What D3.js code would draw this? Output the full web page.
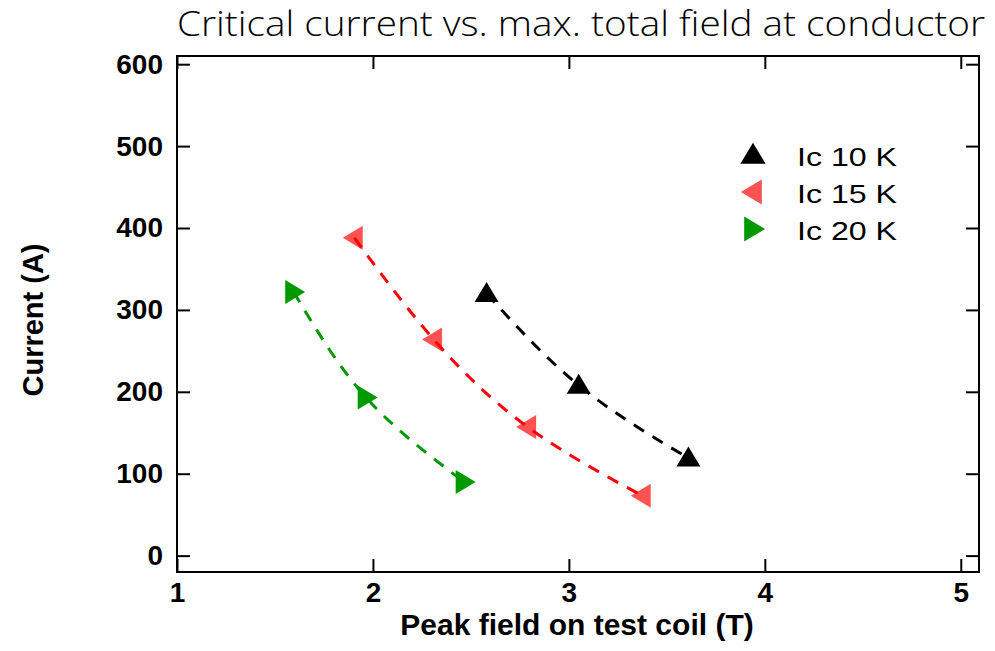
<!DOCTYPE html>
<html>
<head>
<meta charset="utf-8">
<script src="https://cdn.jsdelivr.net/npm/d3@7"></script>
<style>
  body { margin: 0; background: #fff; }
  svg { display: block; }
  .tick text { font-family: 'Liberation Sans', Arial, sans-serif; font-weight: bold; font-size: 28px; fill: #000; }
</style>
</head>
<body>
<svg id="chart" width="995" height="651"></svg>
<script>
// data
const field10 = [2.58, 3.05, 3.61]
const ic10 = [320, 208, 119]
const field15 = [1.905, 2.31, 2.79, 3.375]
const ic15 = [388, 264, 157, 73]
const field20 = [1.595, 1.965, 2.465]
const ic20 = [322, 193, 90]
const xTicks = [1, 2, 3, 4, 5]
const yTicks = [0, 100, 200, 300, 400, 500, 600]

const series = [
  { name: 'Ic 10 K', x: field10, y: ic10, line: '#000', fill: '#000', marker: 'up' },
  { name: 'Ic 15 K', x: field15, y: ic15, line: '#ff0000', fill: 'rgba(255,40,40,0.8)', marker: 'left' },
  { name: 'Ic 20 K', x: field20, y: ic20, line: '#009900', fill: '#009900', marker: 'right' }
]

const svg = d3.select('#chart'),
  margin = { top: 56, right: 16, bottom: 79, left: 177 },
  width = 995 - margin.left - margin.right,
  height = 651 - margin.top - margin.bottom

const x = d3.scaleLinear().domain([1, 5.093]).range([0, width])
const y = d3.scaleLinear().domain([-20, 610]).range([height, 0])

const g = svg.append('g')
  .attr('transform', 'translate(' + margin.left + ',' + margin.top + ')')

// axes with inward ticks
g.append('g')
  .attr('transform', 'translate(0,' + height + ')')
  .call(d3.axisBottom(x).tickValues(xTicks).tickSize(-13).tickPadding(10).tickFormat(d3.format('d')))
  .call(a => a.select('.domain').remove())
g.append('g')
  .call(d3.axisLeft(y).tickValues(yTicks).tickSize(-13).tickPadding(14))
  .call(a => a.select('.domain').remove())
g.append('g')
  .call(d3.axisTop(x).tickValues(xTicks).tickSize(-13).tickFormat(''))
  .call(a => a.select('.domain').remove())
g.append('g')
  .attr('transform', 'translate(' + width + ',0)')
  .call(d3.axisRight(y).tickValues(yTicks).tickSize(-13).tickFormat(''))
  .call(a => a.select('.domain').remove())
g.selectAll('.tick line').attr('stroke', '#000').attr('stroke-width', 2)

g.append('rect')
  .attr('width', width).attr('height', height)
  .attr('fill', 'none').attr('stroke', '#000').attr('stroke-width', 2)

const shape = (kind, s) => {
  if (kind === 'up') return `M0,${-s * 0.58}L${s * 0.6},${s * 0.42}L${-s * 0.6},${s * 0.42}Z`
  if (kind === 'left') return `M${-s * 0.58},0L${s * 0.42},${-s * 0.6}L${s * 0.42},${s * 0.6}Z`
  return `M${s * 0.58},0L${-s * 0.42},${-s * 0.6}L${-s * 0.42},${s * 0.6}Z`
}

const line = d3.line().curve(d3.curveNatural)
  .x(d => x(d[0])).y(d => y(d[1]))

series.forEach(s => {
  const pts = s.x.map((v, i) => [v, s.y[i]])
  g.selectAll(null).data(pts).enter().append('path')
    .attr('transform', d => 'translate(' + x(d[0]) + ',' + y(d[1]) + ')')
    .attr('d', shape(s.marker, 20))
    .attr('fill', s.fill)
  g.append('path')
    .datum(pts)
    .attr('d', line)
    .attr('fill', 'none')
    .attr('stroke', s.line)
    .attr('stroke-width', 3)
    .attr('stroke-dasharray', '12,10')
})

// legend
const leg = svg.append('g').attr('transform', 'translate(753,155)')
series.forEach((s, i) => {
  const row = leg.append('g').attr('transform', 'translate(0,' + i * 37 + ')')
  row.append('path').attr('d', shape(s.marker, 21)).attr('fill', s.fill)
  row.append('text')
    .attr('x', 44).attr('y', 11)
    .attr('textLength', 100)
    .attr('lengthAdjust', 'spacingAndGlyphs')
    .style('font-family', "'Liberation Sans', Arial, sans-serif")
    .style('font-size', '26px')
    .text(s.name)
})

svg.append('text')
  .attr('x', 177).attr('y', 36)
  .attr('textLength', 808)
  .attr('lengthAdjust', 'spacingAndGlyphs')
  .style('font-family', "'Open Sans', sans-serif")
  .style('font-weight', 300)
  .style('font-size', '35px')
  .text('Critical current vs. max. total field at conductor')

svg.append('text')
  .attr('x', 577).attr('y', 635)
  .attr('text-anchor', 'middle')
  .style('font-family', "'Liberation Sans', Arial, sans-serif")
  .style('font-weight', 'bold')
  .style('font-size', '30px')
  .text('Peak field on test coil (T)')

svg.append('text')
  .attr('transform', 'translate(43,320) rotate(-90)')
  .attr('text-anchor', 'middle')
  .style('font-family', "'Liberation Sans', Arial, sans-serif")
  .style('font-weight', 'bold')
  .style('font-size', '29px')
  .text('Current (A)')
</script>
</body>
</html>
